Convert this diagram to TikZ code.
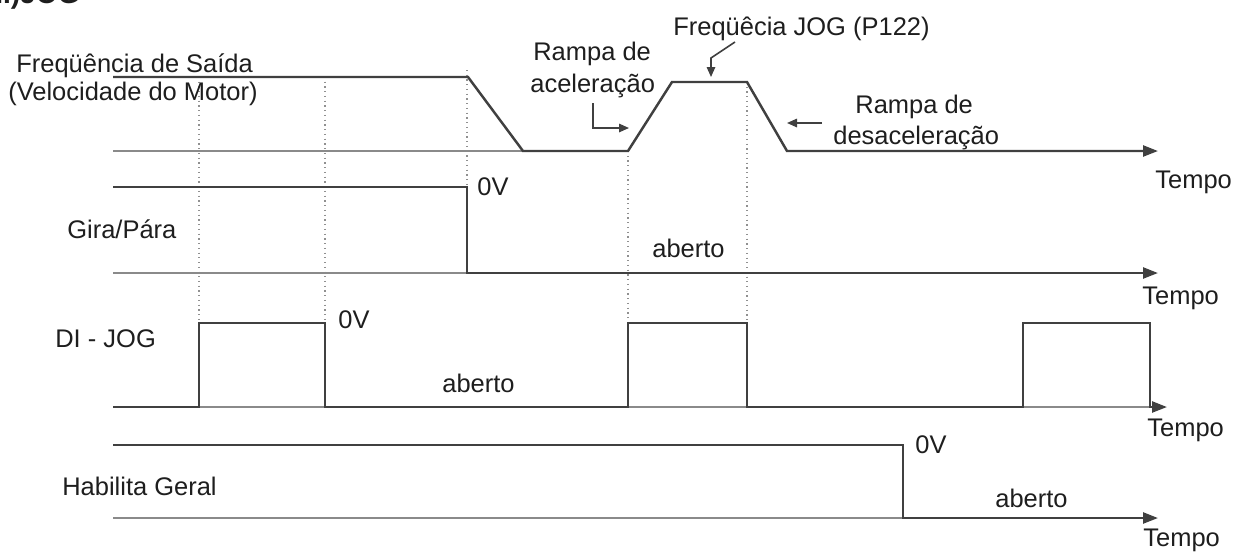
\documentclass[tikz,border=0pt]{standalone}
\usepackage{fontspec}
\setmainfont{Liberation Sans}
\usetikzlibrary{arrows.meta}
\definecolor{sig}{HTML}{404040}
\definecolor{axisgray}{HTML}{8A8A8A}
\definecolor{guide}{HTML}{909090}
\definecolor{txt}{HTML}{1E1E1E}
\tikzset{
  lbl/.style={anchor=base west, inner sep=0pt, text=txt, font=\fontsize{14.5}{17}\selectfont},
  signal/.style={draw=sig, line width=1.3pt},
  axisline/.style={draw=axisgray, line width=0.8pt},
  timeaxis/.style={draw=sig, line width=1.4pt, -{Triangle[length=0.3cm,width=0.22cm]}},
  guideline/.style={draw=guide, line width=0.7pt, dotted},
  pointer/.style={draw=sig, line width=0.9pt, -{Triangle[length=0.2cm,width=0.17cm]}},
}
\begin{document}
\begin{tikzpicture}[x=0.02cm,y=-0.02cm]
\useasboundingbox (0,0) rectangle (1245,552);
\node[lbl, anchor=base east, font=\bfseries\fontsize{16}{19}\selectfont] (title) at (80,3.5) {n.)JOG};
\path[guideline] (199,77) -- (199,323);
\path[guideline] (325,77) -- (325,323);
\path[guideline] (467,70) -- (467,187);
\path[guideline] (628,151) -- (628,323);
\path[guideline] (747,82) -- (747,323);
\path[axisline] (113,151) -- (523,151);
\path[axisline] (113,273) -- (467,273);
\path[axisline] (113,407) -- (1160,407);
\path[axisline] (113,518) -- (903,518);
\path[timeaxis] (113,77) -- (468,77) -- (523,151) -- (628,151) -- (672,82) -- (747,82) -- (787,151) -- (1158,151);
\path[timeaxis] (113,187) -- (467,187) -- (467,273) -- (1158,273);
\path[timeaxis] (113,407) -- (199,407) -- (199,323) -- (325,323) -- (325,407) -- (628,407) -- (628,323) -- (747,323) -- (747,407) -- (1023,407) -- (1023,323) -- (1150,323) -- (1150,407) -- (1167,407);
\path[timeaxis] (113,445) -- (903,445) -- (903,518) -- (1158,518);
\node[lbl] (saida) at (16,72) {Freqüência de Saída};
\node[lbl] (motor) at (8,100) {(Velocidade do Motor)};
\node[lbl] (gira) at (67,238) {Gira/Pára};
\node[lbl] (dijog) at (55,347) {DI - JOG};
\node[lbl] (habilita) at (62,495) {Habilita Geral};
\node[lbl] (jogfreq) at (673,35) {Freqüêcia JOG (P122)};
\node[lbl] (acel1) at (533,60) {Rampa de};
\node[lbl] (acel2) at (530,92) {aceleração};
\node[lbl] (desacel1) at (855,113) {Rampa de};
\node[lbl] (desacel2) at (833,144) {desaceleração};
\node[lbl] (zero1) at (477,195) {0V};
\node[lbl] (zero2) at (338,328) {0V};
\node[lbl] (zero3) at (915,453) {0V};
\node[lbl] (aberto1) at (652,257) {aberto};
\node[lbl] (aberto2) at (442,392) {aberto};
\node[lbl] (aberto3) at (995,507) {aberto};
\node[lbl] (tempo1) at (1155,188) {Tempo};
\node[lbl] (tempo2) at (1142,304) {Tempo};
\node[lbl] (tempo3) at (1147,436) {Tempo};
\node[lbl] (tempo4) at (1143,546) {Tempo};
\coordinate (jogA) at (735,42);
\coordinate (jogB) at (711,58);
\coordinate (jogC) at (711,77);
\coordinate (acA) at (593,103);
\coordinate (acB) at (593,128);
\coordinate (acC) at (629,128);
\coordinate (deA) at (822,123);
\coordinate (deB) at (787,123);
\path[pointer] (jogA) -- (jogB) -- (jogC);
\path[pointer] (acA) -- (acB) -- (acC);
\path[pointer] (deA) -- (deB);
\end{tikzpicture}
\end{document}
